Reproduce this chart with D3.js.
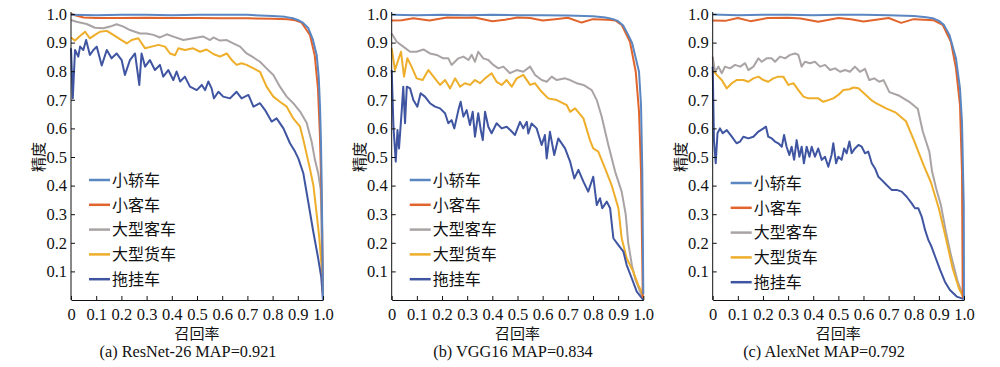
<!DOCTYPE html>
<html>
<head>
<meta charset="utf-8">
<script src="https://cdn.jsdelivr.net/npm/d3@7"></script>
<style>
body { margin: 0; background: #fff; }
</style>
</head>
<body>
<script>
var names = ["小轿车", "小客车", "大型客车", "大型货车", "拖挂车"];
var colors = ["#5a86c2", "#e0642c", "#aaa3a3", "#eeae2a", "#3f55a1"];
var captions = ["(a) ResNet-26 MAP=0.921", "(b) VGG16 MAP=0.834", "(c) AlexNet MAP=0.792"];
var xTicks = [0, 0.1, 0.2, 0.3, 0.4, 0.5, 0.6, 0.7, 0.8, 0.9, 1.0];
var yTicks = [0.1, 0.2, 0.3, 0.4, 0.5, 0.6, 0.7, 0.8, 0.9, 1.0];

// (a) ResNet-26, [recall, precision]
var resnetCar = [[0,0.997],[0.1,0.996],[0.2,0.997],[0.3,0.997],[0.4,0.996],[0.5,0.997],[0.6,0.997],[0.7,0.997],[0.8,0.993],[0.85,0.99],[0.88,0.985],[0.9,0.979],[0.92,0.97],[0.942,0.95],[0.96,0.91],[0.975,0.857],[0.983,0.78],[0.988,0.68],[0.992,0.55],[0.994,0.45],[0.997,0.25],[1,0]];
var resnetBus = [[0,1.0],[0.02,0.995],[0.05,0.988],[0.1,0.986],[0.2,0.986],[0.3,0.987],[0.4,0.986],[0.5,0.986],[0.6,0.985],[0.7,0.985],[0.8,0.983],[0.86,0.982],[0.89,0.978],[0.915,0.97],[0.93,0.95],[0.948,0.927],[0.967,0.857],[0.98,0.74],[0.988,0.57],[0.995,0.33],[0.998,0.15],[1,0]];
var resnetCoach = [[0,0.979],[0.022,0.973],[0.062,0.965],[0.095,0.952],[0.128,0.95],[0.155,0.956],[0.181,0.964],[0.208,0.956],[0.234,0.944],[0.274,0.932],[0.3,0.932],[0.327,0.927],[0.353,0.918],[0.38,0.929],[0.406,0.921],[0.446,0.909],[0.485,0.915],[0.525,0.921],[0.552,0.909],[0.565,0.918],[0.591,0.907],[0.618,0.909],[0.644,0.897],[0.671,0.886],[0.697,0.862],[0.724,0.848],[0.75,0.833],[0.776,0.81],[0.803,0.787],[0.829,0.746],[0.856,0.711],[0.882,0.688],[0.909,0.659],[0.935,0.62],[0.955,0.553],[0.968,0.49],[0.981,0.443],[0.991,0.385],[0.995,0.21],[1,0.02]];
var resnetTruck = [[0,0.918],[0.016,0.907],[0.036,0.923],[0.056,0.938],[0.075,0.915],[0.095,0.927],[0.115,0.938],[0.142,0.941],[0.168,0.927],[0.194,0.912],[0.221,0.897],[0.241,0.909],[0.267,0.915],[0.294,0.88],[0.32,0.886],[0.347,0.892],[0.373,0.886],[0.393,0.862],[0.413,0.856],[0.426,0.88],[0.452,0.874],[0.485,0.88],[0.512,0.868],[0.538,0.876],[0.565,0.86],[0.591,0.851],[0.618,0.862],[0.638,0.839],[0.657,0.822],[0.677,0.828],[0.697,0.822],[0.724,0.81],[0.75,0.798],[0.776,0.746],[0.803,0.711],[0.829,0.693],[0.856,0.676],[0.882,0.635],[0.909,0.606],[0.922,0.56],[0.935,0.51],[0.948,0.46],[0.962,0.4],[0.975,0.3],[0.985,0.22],[0.995,0.11],[1,0.02]];
var resnetTrailer = [[0,0.88],[0.007,0.705],[0.016,0.874],[0.029,0.851],[0.036,0.886],[0.049,0.874],[0.06,0.909],[0.075,0.857],[0.089,0.874],[0.102,0.886],[0.122,0.82],[0.142,0.874],[0.161,0.845],[0.181,0.862],[0.201,0.839],[0.214,0.787],[0.234,0.839],[0.254,0.862],[0.271,0.752],[0.28,0.862],[0.294,0.816],[0.313,0.839],[0.333,0.804],[0.353,0.822],[0.366,0.781],[0.386,0.804],[0.406,0.769],[0.419,0.799],[0.433,0.764],[0.452,0.781],[0.472,0.746],[0.499,0.734],[0.519,0.752],[0.532,0.734],[0.545,0.764],[0.558,0.74],[0.567,0.705],[0.585,0.728],[0.604,0.711],[0.631,0.705],[0.657,0.728],[0.677,0.705],[0.704,0.717],[0.724,0.676],[0.75,0.688],[0.77,0.664],[0.796,0.624],[0.816,0.635],[0.843,0.6],[0.869,0.548],[0.889,0.519],[0.902,0.495],[0.922,0.443],[0.942,0.34],[0.962,0.236],[0.98,0.15],[0.993,0.08],[1,0]];

// (b) VGG16
var vggCar = [[0,0.997],[0.1,0.996],[0.2,0.997],[0.3,0.996],[0.4,0.997],[0.5,0.996],[0.6,0.996],[0.7,0.995],[0.8,0.992],[0.85,0.988],[0.88,0.982],[0.9,0.975],[0.92,0.96],[0.94,0.927],[0.955,0.9],[0.967,0.857],[0.983,0.798],[0.991,0.68],[0.996,0.449],[1,0.02]];
var vggBus = [[0,0.977],[0.04,0.978],[0.086,0.985],[0.15,0.977],[0.22,0.988],[0.3,0.987],[0.33,0.988],[0.4,0.975],[0.45,0.98],[0.5,0.988],[0.55,0.986],[0.6,0.977],[0.65,0.982],[0.7,0.987],[0.755,0.97],[0.8,0.982],[0.86,0.98],[0.89,0.977],[0.914,0.962],[0.947,0.903],[0.97,0.798],[0.983,0.658],[0.991,0.449],[0.998,0.007]];
var vggCoach = [[0,0.932],[0.02,0.903],[0.046,0.886],[0.073,0.868],[0.099,0.868],[0.126,0.876],[0.152,0.862],[0.179,0.857],[0.205,0.845],[0.225,0.845],[0.238,0.822],[0.265,0.845],[0.285,0.851],[0.305,0.839],[0.318,0.857],[0.331,0.833],[0.344,0.868],[0.364,0.845],[0.384,0.839],[0.404,0.822],[0.424,0.81],[0.444,0.816],[0.47,0.793],[0.497,0.804],[0.523,0.798],[0.55,0.816],[0.57,0.787],[0.596,0.769],[0.616,0.763],[0.636,0.781],[0.656,0.769],[0.689,0.775],[0.709,0.769],[0.735,0.758],[0.762,0.752],[0.795,0.734],[0.815,0.699],[0.835,0.64],[0.861,0.542],[0.888,0.449],[0.914,0.379],[0.93,0.3],[0.94,0.2],[0.955,0.12],[0.967,0.076],[0.998,0.006]];
var vggTruck = [[0,0.88],[0.013,0.804],[0.026,0.839],[0.037,0.868],[0.049,0.781],[0.062,0.845],[0.079,0.816],[0.099,0.775],[0.123,0.769],[0.146,0.804],[0.166,0.781],[0.192,0.752],[0.212,0.769],[0.232,0.74],[0.252,0.775],[0.272,0.746],[0.291,0.758],[0.311,0.752],[0.331,0.769],[0.351,0.758],[0.371,0.775],[0.397,0.793],[0.417,0.763],[0.437,0.752],[0.457,0.769],[0.477,0.746],[0.497,0.775],[0.523,0.787],[0.55,0.752],[0.569,0.758],[0.596,0.728],[0.622,0.705],[0.656,0.699],[0.696,0.681],[0.709,0.658],[0.729,0.67],[0.762,0.635],[0.788,0.559],[0.801,0.53],[0.821,0.519],[0.848,0.46],[0.874,0.402],[0.901,0.321],[0.914,0.216],[0.934,0.146],[0.96,0.099],[0.98,0.052],[0.99,0.035],[1,0.01]];
var vggTrailer = [[0,0.804],[0.007,0.606],[0.016,0.484],[0.023,0.594],[0.029,0.53],[0.04,0.664],[0.046,0.746],[0.053,0.618],[0.06,0.746],[0.073,0.74],[0.086,0.699],[0.102,0.676],[0.115,0.723],[0.132,0.711],[0.152,0.688],[0.172,0.676],[0.192,0.67],[0.212,0.653],[0.225,0.618],[0.238,0.629],[0.249,0.6],[0.265,0.664],[0.274,0.693],[0.285,0.641],[0.298,0.664],[0.311,0.612],[0.322,0.658],[0.331,0.571],[0.344,0.653],[0.354,0.594],[0.362,0.559],[0.371,0.658],[0.384,0.606],[0.397,0.583],[0.417,0.618],[0.437,0.6],[0.457,0.606],[0.477,0.589],[0.49,0.577],[0.51,0.623],[0.523,0.6],[0.537,0.623],[0.543,0.582],[0.556,0.617],[0.576,0.6],[0.596,0.542],[0.609,0.577],[0.616,0.495],[0.629,0.588],[0.646,0.507],[0.662,0.565],[0.689,0.53],[0.709,0.484],[0.726,0.425],[0.742,0.455],[0.762,0.414],[0.781,0.379],[0.801,0.431],[0.815,0.332],[0.828,0.356],[0.837,0.321],[0.855,0.344],[0.868,0.321],[0.881,0.216],[0.901,0.192],[0.921,0.169],[0.934,0.122],[0.954,0.076],[0.974,0.029],[1,0]];

// (c) AlexNet
var alexCar = [[0,0.998],[0.1,0.996],[0.2,0.997],[0.3,0.997],[0.4,0.996],[0.5,0.997],[0.6,0.997],[0.7,0.996],[0.8,0.993],[0.85,0.989],[0.88,0.984],[0.9,0.976],[0.92,0.962],[0.942,0.927],[0.968,0.845],[0.984,0.74],[0.992,0.623],[0.999,0.332],[1,0]];
var alexBus = [[0,0.977],[0.05,0.976],[0.1,0.986],[0.15,0.975],[0.22,0.986],[0.3,0.987],[0.35,0.984],[0.42,0.973],[0.5,0.986],[0.55,0.982],[0.6,0.974],[0.65,0.98],[0.7,0.986],[0.75,0.969],[0.8,0.982],[0.88,0.978],[0.915,0.962],[0.948,0.903],[0.968,0.81],[0.984,0.682],[0.992,0.449],[0.995,0.006]];
var alexCoach = [[0,0.851],[0.009,0.798],[0.023,0.816],[0.036,0.793],[0.049,0.816],[0.069,0.81],[0.089,0.822],[0.109,0.816],[0.129,0.828],[0.142,0.804],[0.162,0.816],[0.182,0.845],[0.195,0.833],[0.215,0.845],[0.235,0.845],[0.248,0.833],[0.268,0.851],[0.288,0.845],[0.308,0.857],[0.328,0.862],[0.341,0.857],[0.354,0.816],[0.367,0.833],[0.387,0.828],[0.407,0.833],[0.427,0.816],[0.447,0.822],[0.467,0.804],[0.487,0.81],[0.507,0.798],[0.527,0.804],[0.546,0.798],[0.566,0.816],[0.586,0.798],[0.606,0.808],[0.623,0.769],[0.643,0.775],[0.663,0.763],[0.68,0.769],[0.703,0.727],[0.743,0.714],[0.782,0.693],[0.816,0.669],[0.836,0.589],[0.862,0.519],[0.873,0.449],[0.889,0.391],[0.908,0.332],[0.928,0.239],[0.948,0.157],[0.975,0.064],[1,0.006]];
var alexTruck = [[0,0.804],[0.016,0.787],[0.036,0.769],[0.056,0.74],[0.076,0.758],[0.095,0.769],[0.122,0.769],[0.142,0.763],[0.162,0.775],[0.182,0.781],[0.202,0.769],[0.221,0.763],[0.241,0.775],[0.261,0.781],[0.281,0.781],[0.301,0.752],[0.321,0.758],[0.341,0.734],[0.361,0.711],[0.381,0.705],[0.401,0.705],[0.42,0.705],[0.44,0.693],[0.46,0.699],[0.48,0.705],[0.5,0.717],[0.52,0.734],[0.544,0.737],[0.56,0.743],[0.58,0.74],[0.605,0.72],[0.63,0.7],[0.65,0.688],[0.69,0.67],[0.729,0.655],[0.769,0.625],[0.8,0.56],[0.84,0.47],[0.869,0.41],[0.9,0.32],[0.928,0.216],[0.955,0.11],[0.98,0.04],[1,0.006]];
var alexTrailer = [[0,0.816],[0.005,0.559],[0.012,0.478],[0.019,0.583],[0.029,0.6],[0.04,0.583],[0.056,0.594],[0.076,0.571],[0.095,0.548],[0.109,0.554],[0.122,0.571],[0.142,0.565],[0.162,0.571],[0.182,0.589],[0.202,0.6],[0.212,0.606],[0.221,0.571],[0.235,0.565],[0.248,0.554],[0.261,0.548],[0.275,0.536],[0.284,0.577],[0.294,0.536],[0.305,0.507],[0.314,0.536],[0.324,0.49],[0.334,0.559],[0.345,0.501],[0.354,0.536],[0.363,0.478],[0.374,0.536],[0.385,0.501],[0.394,0.536],[0.407,0.501],[0.42,0.53],[0.434,0.49],[0.447,0.501],[0.46,0.466],[0.473,0.507],[0.48,0.548],[0.491,0.478],[0.5,0.501],[0.513,0.49],[0.523,0.53],[0.533,0.513],[0.544,0.554],[0.553,0.513],[0.566,0.53],[0.58,0.542],[0.593,0.536],[0.606,0.513],[0.619,0.519],[0.633,0.478],[0.646,0.46],[0.659,0.431],[0.672,0.42],[0.692,0.402],[0.712,0.385],[0.732,0.385],[0.752,0.379],[0.772,0.361],[0.792,0.338],[0.805,0.321],[0.818,0.321],[0.832,0.291],[0.845,0.245],[0.858,0.21],[0.871,0.186],[0.885,0.152],[0.905,0.105],[0.924,0.064],[0.944,0.035],[0.971,0.012],[1,0.003]];

var panels = [
  { left: 71, right: 323, series: [resnetCar, resnetBus, resnetCoach, resnetTruck, resnetTrailer], legendTop: 180, capX: 188 },
  { left: 391.7, right: 643.3, series: [vggCar, vggBus, vggCoach, vggTruck, vggTrailer], legendTop: 180, capX: 513 },
  { left: 712.7, right: 964, series: [alexCar, alexBus, alexCoach, alexTruck, alexTrailer], legendTop: 183, capX: 824 }
];
var plotTop = 14, plotBottom = 300;
var serif = "'Liberation Serif', 'Times New Roman', serif";
var cjk = "'Noto Sans CJK SC', 'Noto Sans', sans-serif";

var svg = d3.select("body").append("svg")
    .attr("width", 1000)
    .attr("height", 367);

panels.forEach(function (p, pi) {
    var x = d3.scaleLinear().domain([0, 1]).range([p.left, p.right]);
    var y = d3.scaleLinear().domain([0, 1]).range([plotBottom, plotTop]);
    var g = svg.append("g");

    var line = d3.line()
        .x(function (d) { return x(d[0]); })
        .y(function (d) { return y(d[1]); });

    // gray/yellow/dark first, the two near-1.0 curves last
    [2, 3, 4, 1, 0].forEach(function (si) {
        g.append("path")
            .datum(p.series[si])
            .attr("fill", "none")
            .attr("stroke", colors[si])
            .attr("stroke-width", 2)
            .attr("stroke-linejoin", "round")
            .attr("d", line);
    });

    var xAxis = d3.axisBottom(x)
        .tickValues(xTicks)
        .tickSizeInner(-4)
        .tickSizeOuter(0)
        .tickPadding(8)
        .tickFormat(function (d) { return d === 0 ? "0" : d3.format(".1f")(d); });
    var gx = g.append("g")
        .attr("transform", "translate(0," + plotBottom + ")")
        .call(xAxis);

    var yAxis = d3.axisLeft(y)
        .tickValues(yTicks)
        .tickSizeInner(-4)
        .tickSizeOuter(0)
        .tickPadding(4)
        .tickFormat(d3.format(".1f"));
    var gy = g.append("g")
        .attr("transform", "translate(" + p.left + ",0)")
        .call(yAxis);
    gy.select(".domain").attr("d", "M0," + plotBottom + "V" + (plotTop - 2));

    [gx, gy].forEach(function (a) {
        a.attr("font-family", serif).attr("font-size", 16.5);
        a.selectAll("text").attr("fill", "#111");
        a.selectAll(".domain, .tick line").attr("stroke", "#111");
    });

    // legend
    var lg = g.selectAll(".legend")
        .data(names)
        .enter().append("g")
        .attr("class", "legend")
        .attr("transform", function (d, i) {
            return "translate(" + (p.left + 18) + "," + (p.legendTop + i * 24.8) + ")";
        });
    lg.append("line")
        .attr("x1", 0).attr("x2", 21)
        .attr("stroke", function (d, i) { return colors[i]; })
        .attr("stroke-width", 2.5);
    lg.append("text")
        .attr("x", 23)
        .attr("dy", "0.36em")
        .attr("font-family", cjk)
        .attr("font-size", 16)
        .attr("fill", "#111")
        .text(function (d) { return d; });

    // axis titles and caption
    g.append("text")
        .attr("font-family", cjk)
        .attr("font-size", 15)
        .attr("fill", "#111")
        .attr("text-anchor", "middle")
        .attr("x", (p.left + p.right) / 2)
        .attr("y", 339)
        .text("召回率");
    g.append("text")
        .attr("font-family", cjk)
        .attr("font-size", 15)
        .attr("fill", "#111")
        .attr("text-anchor", "middle")
        .attr("transform", "translate(" + (p.left - 32) + ",157) rotate(-90)")
        .attr("dy", "0.35em")
        .text("精度");
    g.append("text")
        .attr("font-family", serif)
        .attr("font-size", 16.3)
        .attr("fill", "#111")
        .attr("text-anchor", "middle")
        .attr("x", p.capX)
        .attr("y", 357)
        .text(captions[pi]);
});
</script>
</body>
</html>
